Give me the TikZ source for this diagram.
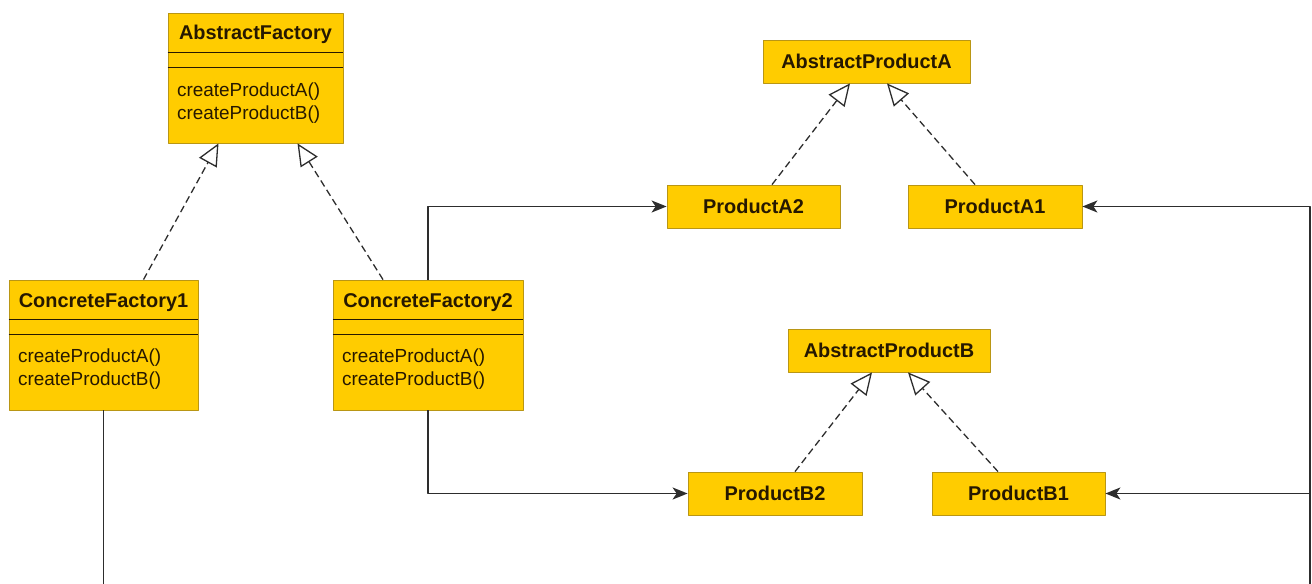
\documentclass[tikz,border=0pt]{standalone}
\usepackage{fontspec}
\setmainfont{Liberation Sans}
\usetikzlibrary{arrows.meta}
\definecolor{classfill}{RGB}{255,204,0}
\definecolor{classline}{RGB}{185,150,20}
\definecolor{classtext}{RGB}{38,24,0}
\definecolor{wirecol}{RGB}{45,45,45}
\begin{document}
\begin{tikzpicture}[>={Stealth[length=15bp,width=12bp,inset=4bp]},line join=bevel,
  classbox/.style={draw=classline,fill=classfill,line width=0.8bp,inner sep=0pt},
  smallbox/.style={classbox,minimum height=43bp,font=\bfseries\fontsize{20}{24}\selectfont,text=classtext},
  classname/.style={anchor=base,inner sep=0pt,font=\bfseries\fontsize{20}{24}\selectfont,text=classtext},
  opslist/.style={anchor=north west,inner sep=0pt,align=left,font=\fontsize{19}{23}\selectfont,text=classtext},
  compline/.style={draw=classtext,line width=1.4bp},
  realizes/.style={draw=wirecol,line width=1.3bp,dash pattern=on 7bp off 4bp,
    -{Triangle[length=22bp,width=20bp,fill=white]}},
  uses/.style={draw=wirecol,line width=1.5bp,->}]
  \pgfsetlinewidth{1bp}
  \useasboundingbox (0bp,0bp) rectangle (1312bp,584bp);
  \clip (0bp,0bp) rectangle (1312bp,584bp);
%%
  % Node: AbstractFactory
  \node[classbox,minimum width=175bp,minimum height=130bp] (af) at (255.5bp,506bp) {};
  \node[classname] (af-name) at ([yshift=-27bp]af.north) {AbstractFactory};
  \draw[compline] ([yshift=-40bp]af.north west) -- ([yshift=-40bp]af.north east);
  \draw[compline] ([yshift=-55bp]af.north west) -- ([yshift=-55bp]af.north east);
  \node[opslist] (af-ops) at ([xshift=9bp,yshift=-70bp]af.north west) {createProductA()\\createProductB()};
  % Node: ConcreteFactory1
  \node[classbox,minimum width=189bp,minimum height=130bp] (cf1) at (103.5bp,239bp) {};
  \node[classname] (cf1-name) at ([yshift=-28bp]cf1.north) {ConcreteFactory1};
  \draw[compline] ([yshift=-40bp]cf1.north west) -- ([yshift=-40bp]cf1.north east);
  \draw[compline] ([yshift=-55bp]cf1.north west) -- ([yshift=-55bp]cf1.north east);
  \node[opslist] (cf1-ops) at ([xshift=9bp,yshift=-69bp]cf1.north west) {createProductA()\\createProductB()};
  % Node: ConcreteFactory2
  \node[classbox,minimum width=190bp,minimum height=130bp] (cf2) at (428bp,239bp) {};
  \node[classname] (cf2-name) at ([yshift=-28bp]cf2.north) {ConcreteFactory2};
  \draw[compline] ([yshift=-40bp]cf2.north west) -- ([yshift=-40bp]cf2.north east);
  \draw[compline] ([yshift=-55bp]cf2.north west) -- ([yshift=-55bp]cf2.north east);
  \node[opslist] (cf2-ops) at ([xshift=9bp,yshift=-69bp]cf2.north west) {createProductA()\\createProductB()};
  % Node: AbstractProductA
  \node[smallbox,minimum width=207bp] (apa) at (866.5bp,522.5bp) {AbstractProductA};
  % Node: ProductA2
  \node[smallbox,minimum width=173bp] (pa2) at (753.5bp,377.5bp) {ProductA2};
  % Node: ProductA1
  \node[smallbox,minimum width=174bp] (pa1) at (995bp,377.5bp) {ProductA1};
  % Node: AbstractProductB
  \node[smallbox,minimum width=202bp] (apb) at (889bp,233.5bp) {AbstractProductB};
  % Node: ProductB2
  \node[smallbox,minimum width=174bp] (pb2) at (775bp,90.5bp) {ProductB2};
  % Node: ProductB1
  \node[smallbox,minimum width=173bp] (pb1) at (1018.5bp,90.5bp) {ProductB1};
%%
  % Edge: ConcreteFactory1 -> AbstractFactory
  \draw[realizes] ([xshift=40bp]cf1.north) -- ([xshift=-37bp]af.south);
  % Edge: ConcreteFactory2 -> AbstractFactory
  \draw[realizes] ([xshift=-45bp]cf2.north) -- ([xshift=42bp]af.south);
  % Edge: ProductA2 -> AbstractProductA
  \draw[realizes] ([xshift=18.5bp]pa2.north) -- ([xshift=-16.5bp]apa.south);
  % Edge: ProductA1 -> AbstractProductA
  \draw[realizes] ([xshift=-20bp]pa1.north) -- ([xshift=20.5bp]apa.south);
  % Edge: ProductB2 -> AbstractProductB
  \draw[realizes] ([xshift=20bp]pb2.north) -- ([xshift=-17bp]apb.south);
  % Edge: ProductB1 -> AbstractProductB
  \draw[realizes] ([xshift=-20.5bp]pb1.north) -- ([xshift=19bp]apb.south);
  % Edge: ConcreteFactory2 -> ProductA2
  \draw[uses] (cf2.north) |- (pa2.west);
  % Edge: ConcreteFactory2 -> ProductB2
  \draw[uses] (cf2.south) |- (pb2.west);
  % Edge: ConcreteFactory1 -> ProductA1, ProductB1 (runs below the frame)
  \coordinate (bus) at (1310bp,-6bp);
  \draw[uses] (cf1.south) |- (bus) |- (pa1.east);
  \draw[uses] (bus) |- (pb1.east);
%
\end{tikzpicture}
\end{document}
